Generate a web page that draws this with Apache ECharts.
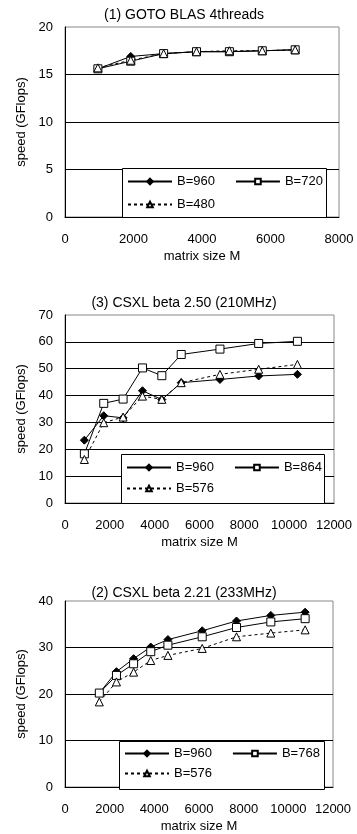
<!DOCTYPE html>
<html><head><meta charset="utf-8">
<script src="https://cdn.jsdelivr.net/npm/echarts@6/dist/echarts.min.js"></script>
<style>html,body{margin:0;padding:0;background:#fff;}#c{width:357px;height:834px;}</style>
</head><body><div id="c"></div>
<script>
// ---- Chart (1) GOTO BLAS 4threads ----
const title1 = "(1) GOTO BLAS 4threads";
const xGoto = [960, 1920, 2880, 3840, 4800, 5760, 6720];
const goto960 = [15.6, 16.9, 17.2, 17.4, 17.4, 17.5, 17.6];
const goto720 = [15.6, 16.4, 17.2, 17.4, 17.4, 17.5, 17.6];
const goto480 = [15.7, 16.5, 17.2, 17.4, 17.5, 17.5, 17.6];
const xTicks1 = [0, 2000, 4000, 6000, 8000];
const yTicks1 = [0, 5, 10, 15, 20];
const names1 = ["B=960", "B=720", "B=480"];

// ---- Chart (3) CSXL beta 2.50 ----
const title2 = "(3) CSXL beta 2.50 (210MHz)";
const x250 = [864, 1728, 2592, 3456, 4320, 5184, 6912, 8640, 10368];
const b250_960 = [23.4, 32.5, 31.7, 41.8, 38.5, 44.8, 46.0, 47.3, 47.9];
const b250_864 = [18.3, 37.1, 38.7, 50.3, 47.4, 55.3, 57.3, 59.4, 60.2];
const b250_576 = [16.2, 29.9, 32.0, 39.8, 38.6, 44.8, 47.9, 49.8, 51.6];
const xTicks2 = [0, 2000, 4000, 6000, 8000, 10000, 12000];
const yTicks2 = [0, 10, 20, 30, 40, 50, 60, 70];
const names2 = ["B=960", "B=864", "B=576"];

// ---- Chart (2) CSXL beta 2.21 ----
const title3 = "(2) CSXL beta 2.21 (233MHz)";
const x221 = [1536, 2304, 3072, 3840, 4608, 6144, 7680, 9216, 10752];
const b221_960 = [20.2, 24.8, 27.6, 30.1, 31.7, 33.6, 35.7, 36.9, 37.6];
const b221_768 = [20.2, 24.0, 26.5, 29.1, 30.5, 32.3, 34.3, 35.5, 36.2];
const b221_576 = [18.3, 22.6, 24.7, 27.2, 28.3, 29.8, 32.3, 33.1, 33.8];
const xTicks3 = [0, 2000, 4000, 6000, 8000, 10000, 12000];
const yTicks3 = [0, 10, 20, 30, 40];
const names3 = ["B=960", "B=768", "B=576"];

const xName = "matrix size M";
const yName = "speed (GFlops)";

const FONT = "Liberation Sans, Arial, sans-serif";
const FS = 13;
const panels = [
  {title: title1, xs: xGoto, ys: [goto960, goto720, goto480], names: names1, xt: xTicks1, yt: yTicks1,
   grid: {left: 65, top: 27, width: 274, height: 190}, titleY: 8, box: [122, 168, 204, 49], row1: 175, row2: 198},
  {title: title2, xs: x250, ys: [b250_960, b250_864, b250_576], names: names2, xt: xTicks2, yt: yTicks2,
   grid: {left: 65, top: 315, width: 269, height: 188}, titleY: 296, box: [121, 454, 203, 49], row1: 461, row2: 482},
  {title: title3, xs: x221, ys: [b221_960, b221_768, b221_576], names: names3, xt: xTicks3, yt: yTicks3,
   grid: {left: 65, top: 601, width: 268, height: 188}, titleY: 586, box: [119, 741, 205, 48], row1: 747, row2: 767}
];

const styles = [
  {symbol: 'diamond', symbolSize: 8, fill: '#000', dash: 'solid'},
  {symbol: 'rect', symbolSize: 8, fill: '#fff', dash: 'solid'},
  {symbol: 'triangle', symbolSize: 8, fill: '#fff', dash: [3, 3]}
];

const option = {
  animation: false,
  backgroundColor: '#fff',
  textStyle: {fontFamily: FONT, color: '#000'},
  title: [], grid: [], xAxis: [], yAxis: [], series: [], legend: [], graphic: []
};

panels.forEach((p, i) => {
  option.title.push({text: p.title, left: 184, top: p.titleY, textAlign: 'center', padding: 0,
    textStyle: {fontFamily: FONT, fontSize: 14, fontWeight: 'normal', color: '#000'}});
  option.grid.push(Object.assign({show: true, borderColor: '#888', borderWidth: 1, backgroundColor: 'transparent'}, p.grid));
  option.xAxis.push({type: 'value', gridIndex: i, min: p.xt[0], max: p.xt[p.xt.length - 1], interval: p.xt[1] - p.xt[0],
    name: xName, nameLocation: 'middle', nameGap: 33,
    nameTextStyle: {fontFamily: FONT, fontSize: FS, color: '#000'},
    axisLine: {show: true, lineStyle: {color: '#000', width: 1}}, axisTick: {show: false},
    axisLabel: {fontFamily: FONT, fontSize: FS, color: '#000', margin: 16, formatter: v => String(v)},
    splitLine: {show: false}});
  option.yAxis.push({type: 'value', gridIndex: i, min: p.yt[0], max: p.yt[p.yt.length - 1], interval: p.yt[1] - p.yt[0],
    name: yName, nameLocation: 'middle', nameGap: 36,
    nameTextStyle: {fontFamily: FONT, fontSize: FS, color: '#000'},
    axisLine: {show: true, lineStyle: {color: '#000', width: 1}}, axisTick: {show: false},
    axisLabel: {fontFamily: FONT, fontSize: FS, color: '#000', margin: 12, formatter: v => String(v)},
    splitLine: {show: true, showMinLine: false, showMaxLine: false, lineStyle: {color: '#000', width: 1}}});
  p.ys.forEach((vals, k) => {
    const st = styles[k];
    option.series.push({type: 'line', name: p.names[k], xAxisIndex: i, yAxisIndex: i,
      data: p.xs.map((x, j) => [x, vals[j]]),
      symbol: st.symbol, symbolSize: st.symbolSize, showAllSymbol: true, z: 3,
      lineStyle: {color: '#000', width: 1, type: st.dash},
      itemStyle: {color: st.fill, borderColor: '#000', borderWidth: 1}});
  });
  const b = p.box;
  option.graphic.push({type: 'rect', z: 20, shape: {x: b[0] + 0.5, y: b[1] + 0.5, width: b[2], height: b[3]},
    style: {fill: '#fff', stroke: '#000', lineWidth: 1}});
  const legBase = {orient: 'horizontal', itemWidth: 44, itemHeight: 7, itemGap: 20, padding: 0, z: 30, zlevel: 0,
    textStyle: {fontFamily: FONT, fontSize: FS, color: '#000'}, selectedMode: false};
  option.legend.push(Object.assign({}, legBase, {data: [p.names[0], p.names[1]], left: b[0] + 5, top: p.row1}));
  option.legend.push(Object.assign({}, legBase, {data: [p.names[2]], left: b[0] + 5, top: p.row2}));
});

const chart = echarts.init(document.getElementById('c'), null, {renderer: 'canvas'});
chart.setOption(option);
</script></body></html>
